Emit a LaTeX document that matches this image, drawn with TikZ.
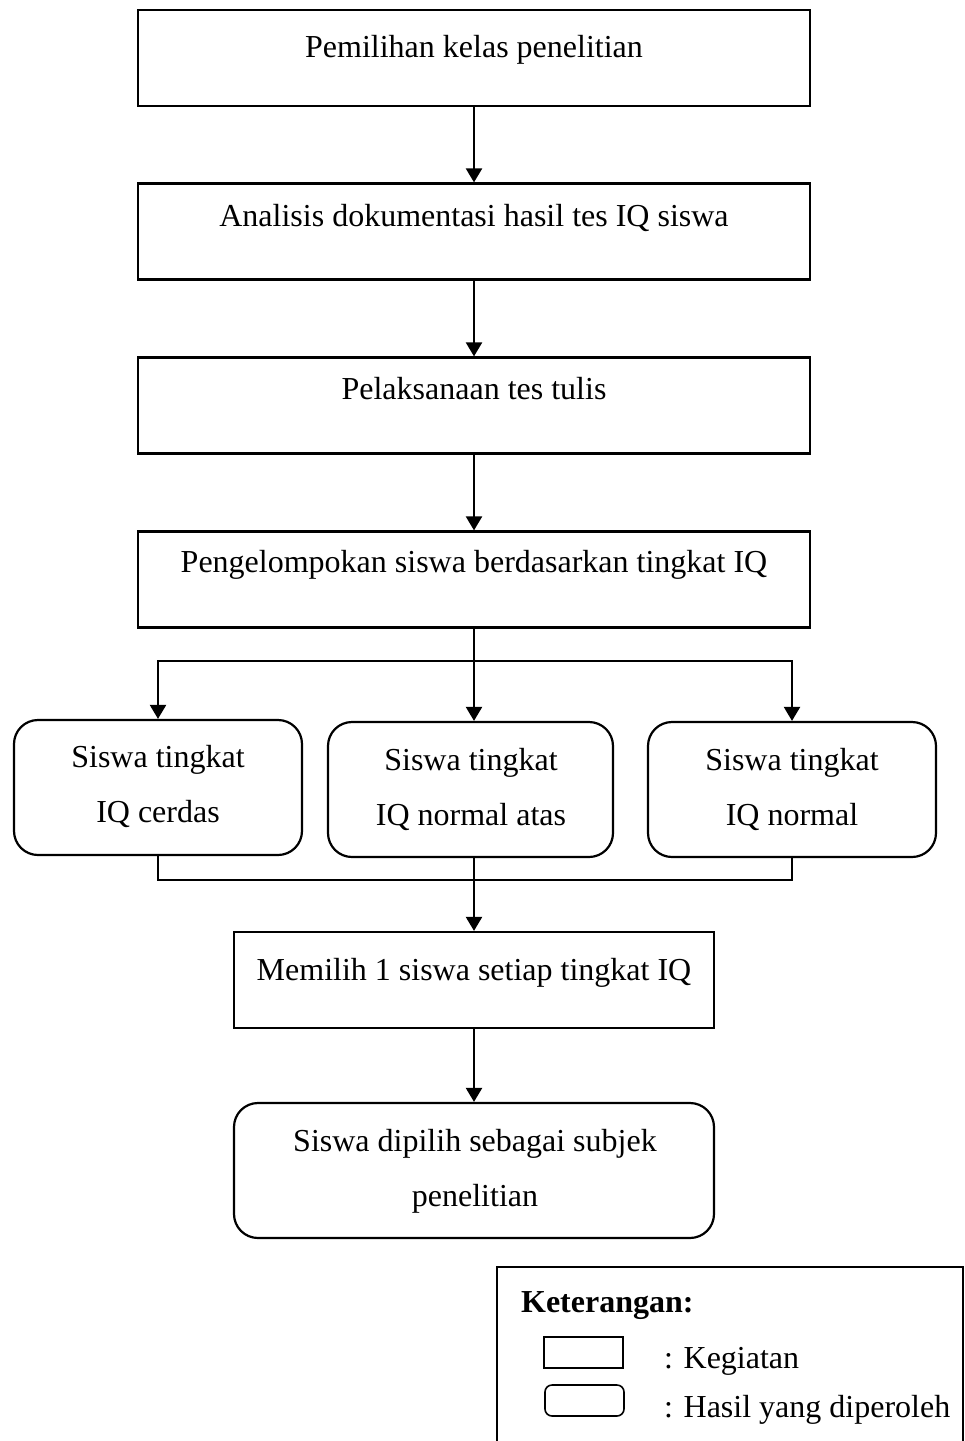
\documentclass[tikz,border=0pt]{standalone}
\usepackage{fontspec}
\setmainfont{Liberation Serif}
\usetikzlibrary{arrows.meta}
\begin{document}
\begin{tikzpicture}[x=1pt, y=-1pt, line width=2.2pt,
  actbox/.style={draw, rectangle, inner sep=0pt, minimum width=672pt, minimum height=96pt},
  resbox/.style={draw, rectangle, rounded corners=24pt, inner sep=0pt, minimum height=135pt},
  txt/.style={anchor=base, inner sep=0pt, font=\fontsize{32}{38}\selectfont},
  flow/.style={-{Triangle[width=16pt,length=14pt]}},
  keybox/.style={draw, rectangle, line width=1.6pt, inner sep=0pt, minimum width=79pt, minimum height=31pt},
]
\useasboundingbox (0,0) rectangle (965,1441);

% activity boxes
\node[actbox] (b1) at (474,58) {};
\node[actbox] (b2) at (474,231.5) {};
\node[actbox] (b3) at (474,405.5) {};
\node[actbox] (b4) at (474,579.5) {};

% result boxes
\node[resbox, minimum width=288pt] (rL) at (158,787.5) {};
\node[resbox, minimum width=285pt] (rM) at (470.5,789.5) {};
\node[resbox, minimum width=288pt] (rR) at (792,789.5) {};

\node[actbox, minimum width=480pt] (b6) at (474,980) {};
\node[resbox, minimum width=480pt] (r7) at (474,1170.5) {};

% labels
\node[txt] (t1) at (474,57) {Pemilihan kelas penelitian};
\node[txt] (t2) at (474,226) {Analisis dokumentasi hasil tes IQ siswa};
\node[txt] (t3) at (474,399) {Pelaksanaan tes tulis};
\node[txt] (t4) at (474,572) {Pengelompokan siswa berdasarkan tingkat IQ};
\node[txt] (tL1) at (158,767) {Siswa tingkat};
\node[txt] (tL2) at (158,822) {IQ cerdas};
\node[txt] (tM1) at (471,770) {Siswa tingkat};
\node[txt] (tM2) at (471,825) {IQ normal atas};
\node[txt] (tR1) at (792,770) {Siswa tingkat};
\node[txt] (tR2) at (792,825) {IQ normal};
\node[txt] (t6) at (474,980) {Memilih 1 siswa setiap tingkat IQ};
\node[txt] (t71) at (475,1151) {Siswa dipilih sebagai subjek};
\node[txt] (t72) at (475,1206) {penelitian};

% connectors
\draw[flow] (b1.south) -- (b2.north);
\draw[flow] (b2.south) -- (b3.north);
\draw[flow] (b3.south) -- (b4.north);

\coordinate (split) at (474,661);
\draw (b4.south) -- (split);
\draw[flow] (split) -| (rL.north);
\draw[flow] (split) -| (rR.north);
\draw[flow] (split) -- (split |- rM.north);

\coordinate (merge) at (474,880);
\draw (rL.south) |- (merge);
\draw (rR.south) |- (merge);
\draw (merge |- rM.south) -- (merge);
\draw[flow] (merge) -- (b6.north);
\draw[flow] (b6.south) -- (r7.north);

% legend
\draw (497,1441) -- (497,1267) -- (963,1267) -- (963,1441);
\node[anchor=base west, inner sep=0pt, font=\fontsize{32}{38}\selectfont\bfseries] (kt) at (520,1312) {Keterangan:};
\node[keybox] (k1) at (583.5,1352.5) {};
\node[keybox, rounded corners=7pt] (k2) at (584.5,1400.5) {};
\node[anchor=base west, inner sep=0pt, font=\fontsize{32}{38}\selectfont] (kl1) at (663,1368) {: Kegiatan};
\node[anchor=base west, inner sep=0pt, font=\fontsize{32}{38}\selectfont] (kl2) at (663,1417) {: Hasil yang diperoleh};
\end{tikzpicture}
\end{document}
